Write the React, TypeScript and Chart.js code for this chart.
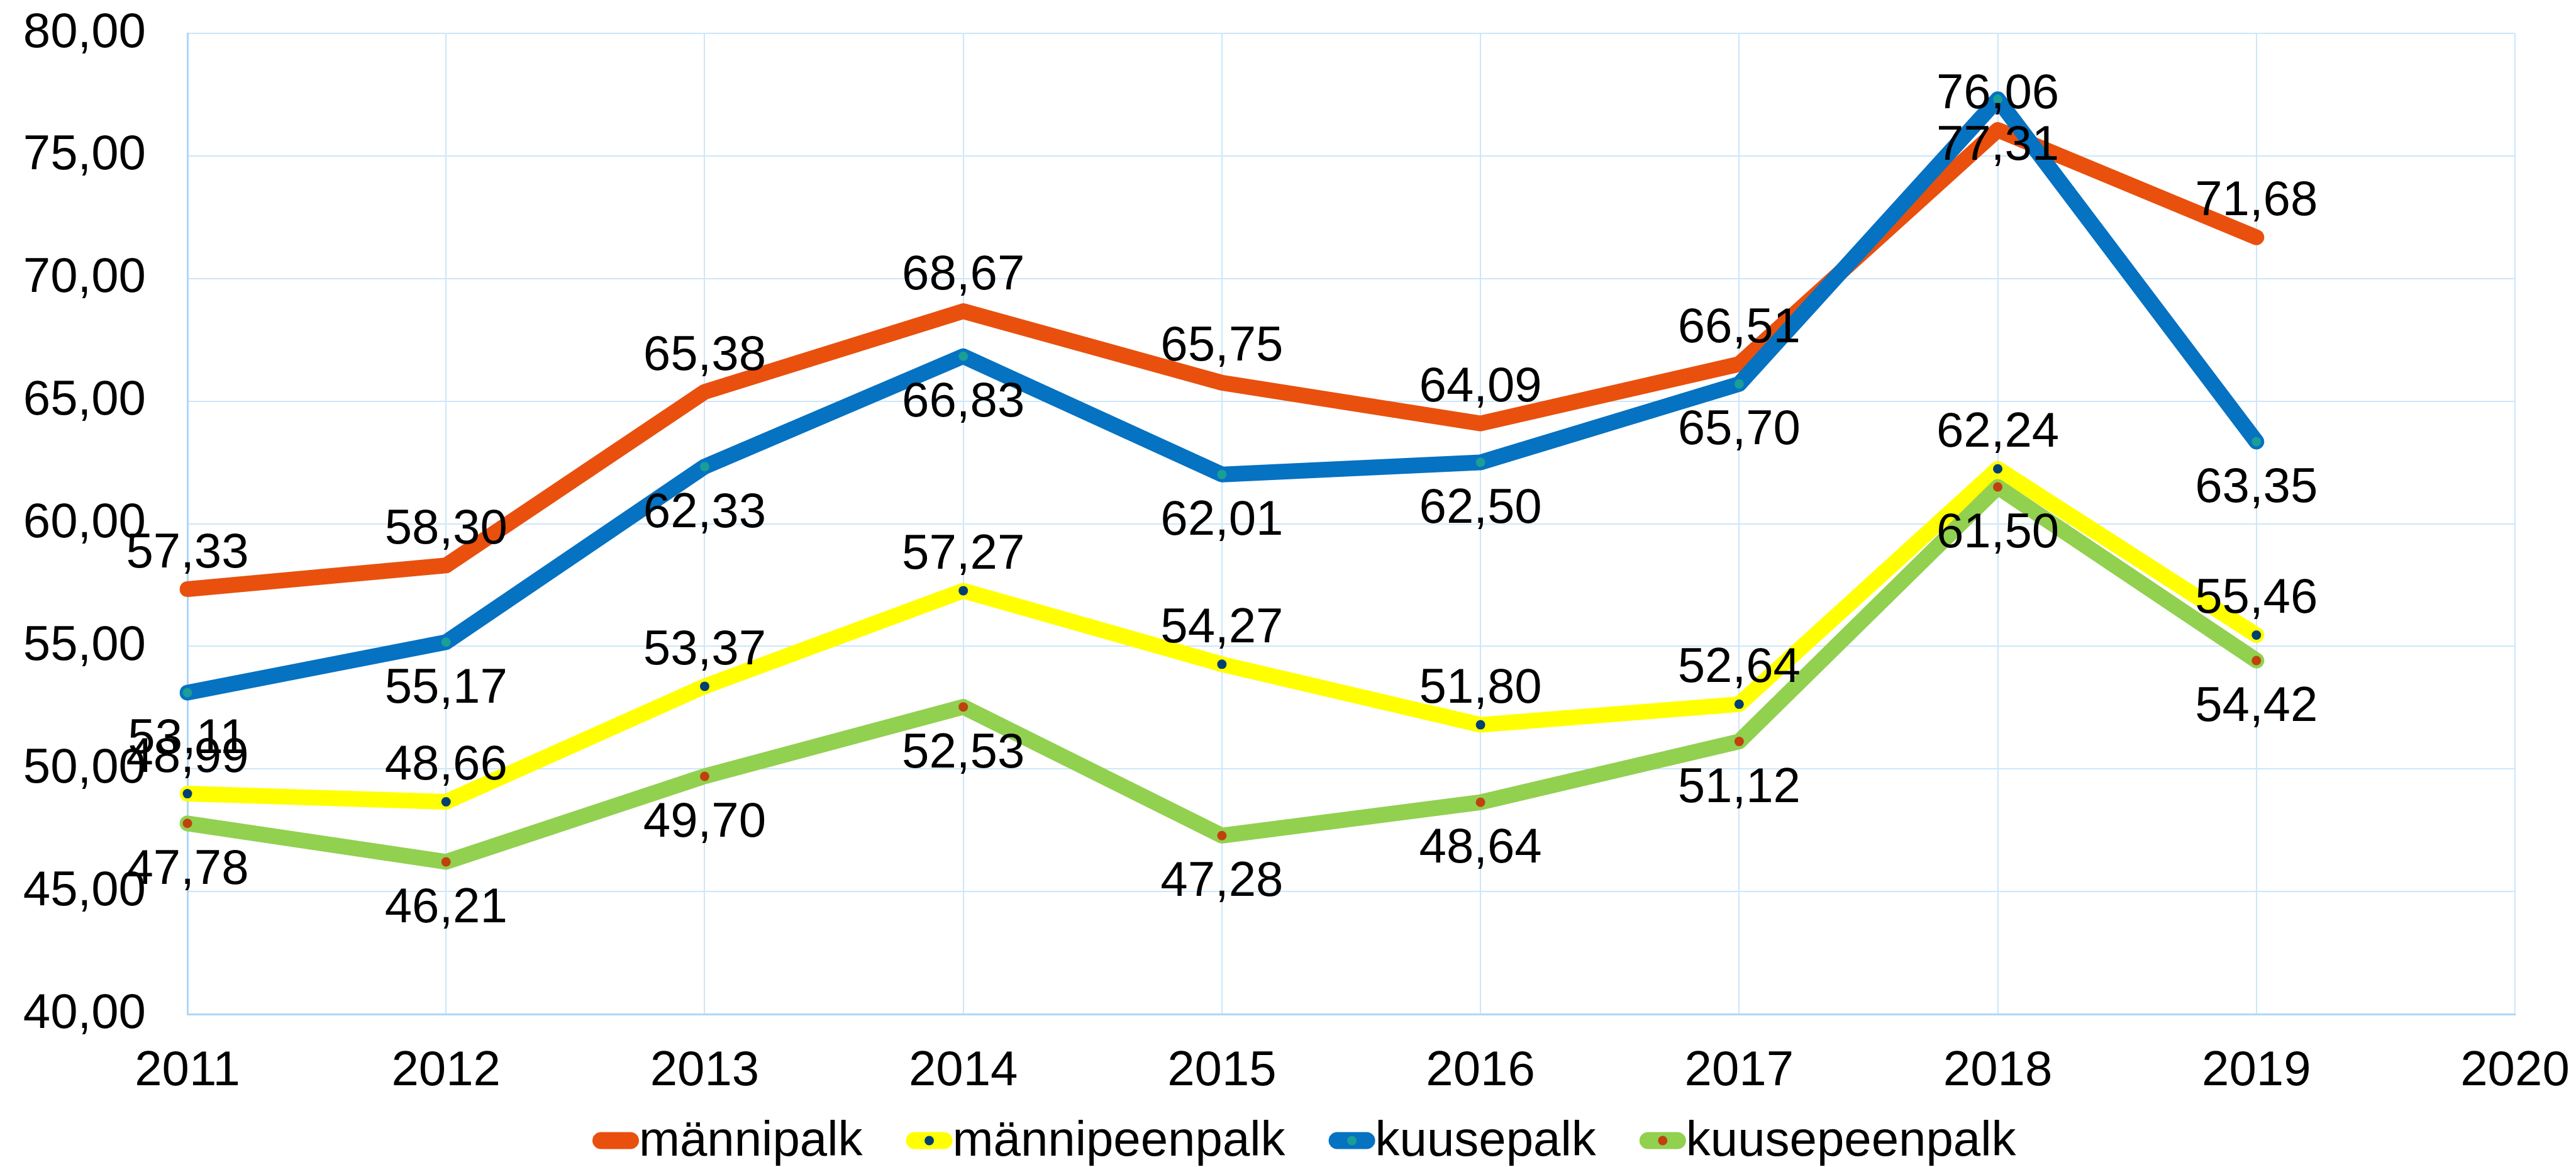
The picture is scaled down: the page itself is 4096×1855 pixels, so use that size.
import React, { useEffect, useRef } from "react";
import { Chart, registerables } from "chart.js";

Chart.register(...registerables);

// ---- data ----
const years = ["2011", "2012", "2013", "2014", "2015", "2016", "2017", "2018", "2019", "2020"];
const seriesNames = ["männipalk", "männipeenpalk", "kuusepalk", "kuusepeenpalk"];
const manniPalk = [57.33, 58.3, 65.38, 68.67, 65.75, 64.09, 66.51, 76.06, 71.68];
const manniPeenPalk = [48.99, 48.66, 53.37, 57.27, 54.27, 51.8, 52.64, 62.24, 55.46];
const kuusePalk = [53.11, 55.17, 62.33, 66.83, 62.01, 62.5, 65.7, 77.31, 63.35];
const kuusePeenPalk = [47.78, 46.21, 49.7, 52.53, 47.28, 48.64, 51.12, 61.5, 54.42];
const yMin = 40;
const yMax = 80;
const yStep = 5;

// ---- style ----
const W = 4096;
const H = 1855;
const FONT = "'Liberation Sans', Arial, sans-serif";
const FS = 78;
const lineColors = ["#E9500E", "#FFFF00", "#0572C2", "#92D050"];
const markerColors = ["#E9500E", "#003F72", "#1A9E96", "#C0410E"];
const labelSide = [-1, -1, 1, 1]; // -1 above, 1 below
const drawOrder = [3, 2, 1, 0];
const gridColor = "#CCE6FA";
const axisColor = "#ADD7F8";

const fmt = (v: number) => v.toFixed(2).replace(".", ",");

const dataLabelPlugin = {
  id: "dataLabels",
  afterDatasetsDraw(chart: any) {
    const ctx = chart.ctx;
    ctx.save();
    ctx.font = `${FS}px ${FONT}`;
    ctx.fillStyle = "#000";
    ctx.textAlign = "center";
    ctx.textBaseline = "alphabetic";
    chart.data.datasets.forEach((ds: any, di: number) => {
      const meta = chart.getDatasetMeta(di);
      meta.data.forEach((pt: any, i: number) => {
        const v = ds.data[i];
        if (v == null) return;
        const off = labelSide[di] < 0 ? -35 : 96;
        ctx.fillText(fmt(v), pt.x, pt.y + off);
      });
    });
    ctx.restore();
  },
};

const legendPlugin = {
  id: "customLegend",
  afterDraw(chart: any) {
    const ctx = chart.ctx;
    ctx.save();
    ctx.font = `${FS}px ${FONT}`;
    const markerW = 74;
    const markerH = 27;
    const gapText = 0;
    const gapItem = 69;
    const widths = seriesNames.map((n) => ctx.measureText(n).width);
    let x = 942;
    const cy = 1813;
    const baseline = 1837;
    seriesNames.forEach((name, i) => {
      ctx.beginPath();
      ctx.lineCap = "round";
      ctx.lineWidth = markerH;
      ctx.strokeStyle = lineColors[i];
      ctx.moveTo(x + markerH / 2, cy);
      ctx.lineTo(x + markerW - markerH / 2, cy);
      ctx.stroke();
      if (i > 0) {
        ctx.beginPath();
        ctx.fillStyle = markerColors[i];
        ctx.arc(x + markerW / 2, cy, 7.5, 0, Math.PI * 2);
        ctx.fill();
      }
      ctx.fillStyle = "#000";
      ctx.textAlign = "left";
      ctx.textBaseline = "alphabetic";
      ctx.fillText(name, x + markerW + gapText, baseline);
      x += markerW + gapText + widths[i] + gapItem;
    });
    ctx.restore();
  },
};

export default function App() {
  const ref = useRef<HTMLCanvasElement | null>(null);
  useEffect(() => {
    document.body.style.margin = "0";
    const all = [manniPalk, manniPeenPalk, kuusePalk, kuusePeenPalk];
    const chart = new Chart(ref.current as HTMLCanvasElement, {
      type: "line",
      data: {
        labels: years,
        datasets: all.map((d, i) => ({
          label: seriesNames[i],
          data: d,
          borderColor: lineColors[i],
          backgroundColor: lineColors[i],
          borderWidth: 25,
          borderCapStyle: "round",
          borderJoinStyle: "round",
          pointRadius: 7.5,
          pointBorderWidth: 0,
          pointBackgroundColor: markerColors[i],
          pointBorderColor: markerColors[i],
          tension: 0,
          fill: false,
          order: drawOrder[i],
        })),
      },
      options: {
        responsive: false,
        animation: false,
        devicePixelRatio: 1,
        layout: { padding: { top: 53, right: 97, bottom: 0, left: 0 } },
        plugins: {
          legend: { display: false },
          tooltip: { enabled: false },
        },
        scales: {
          x: {
            type: "category",
            offset: false,
            grid: { color: gridColor, lineWidth: 2, drawTicks: false },
            border: { color: axisColor, width: 3 },
            ticks: {
              color: "#000",
              font: { family: FONT, size: FS },
              padding: 45,
              maxRotation: 0,
              autoSkip: false,
            },
            afterFit: (s: any) => {
              s.height = 243;
              s.paddingLeft = 0;
              s.paddingRight = 0;
            },
          },
          y: {
            min: yMin,
            max: yMax,
            grid: { color: gridColor, lineWidth: 2, drawTicks: false },
            border: { color: axisColor, width: 3 },
            ticks: {
              stepSize: yStep,
              color: "#000",
              font: { family: FONT, size: FS },
              padding: 66,
              callback: (v: any) => fmt(Number(v)),
            },
            afterFit: (s: any) => {
              s.width = 298;
              s.paddingTop = 0;
              s.paddingBottom = 0;
            },
          },
        },
      },
      plugins: [dataLabelPlugin, legendPlugin],
    } as any);
    return () => chart.destroy();
  }, []);
  return (
    <div style={{ position: "fixed", left: 0, top: 0, width: W, height: H, background: "#fff" }}>
      <canvas ref={ref} width={W} height={H} style={{ width: W, height: H }} />
    </div>
  );
}
